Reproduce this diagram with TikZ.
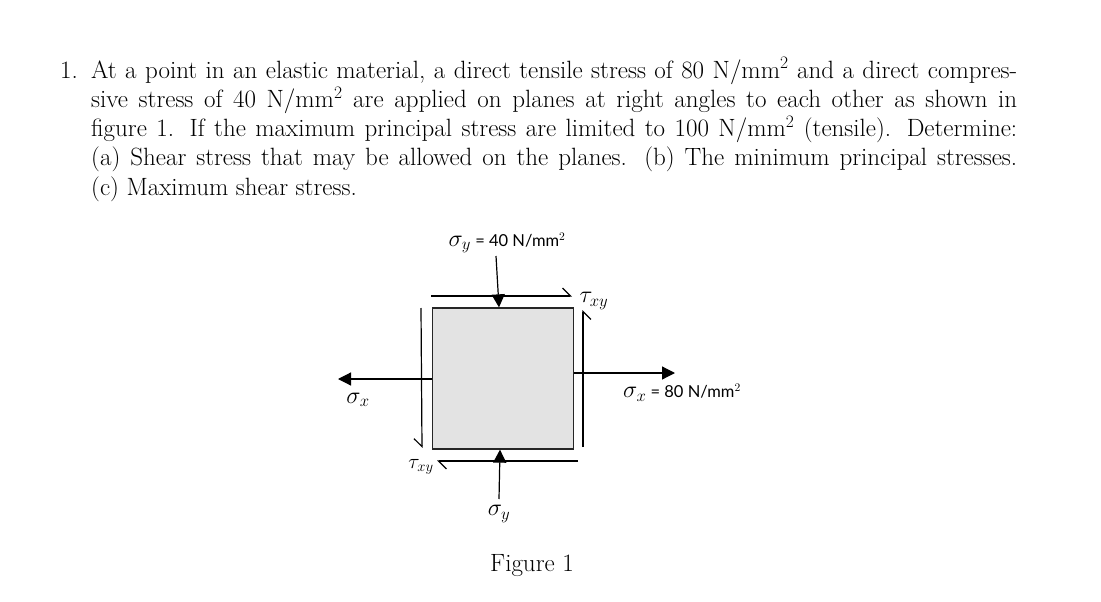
\documentclass[tikz,border=0pt]{standalone}
\usepackage{fix-cm}
\usepackage{fontspec}
\newfontfamily\handfont{Lato}
\newcommand{\handtext}[1]{{\fontsize{16.5}{16.5}\handfont #1}}
\usetikzlibrary{arrows.meta}
\begin{document}
\begin{tikzpicture}[x=1pt,y=-1pt,
        question/.style = {anchor=base west, inner sep=0pt, text width=926pt, align=justify, font=\fontsize{25}{29.3}\selectfont},
        block/.style = {draw=black!85, fill=black!11, line width=1.3pt, minimum size=141pt, inner sep=0pt},
        force/.style = {line width=1.2pt, -{Triangle[length=13pt,width=13pt]}},
        shear/.style = {line width=1.2pt, -{Straight Barb[harpoon,length=8pt,width=16pt]}},
        shearb/.style = {line width=1.2pt, -{Straight Barb[harpoon,swap,length=8pt,width=16pt]}},
        hand/.style = {inner sep=0pt, font=\fontsize{24}{24}\selectfont},
        handsmall/.style = {inner sep=0pt, font=\fontsize{21}{21}\selectfont}]
    \useasboundingbox (0,0) rectangle (1101,602);
    % question text
    \node[question,text width=30pt,align=left] (num) at (60,78) {1.};
    \node[question] (text) at (91,78) {At a point in an elastic material, a direct tensile stress of 80 N/mm$^2$ and a direct compres-\linebreak
        sive stress of 40 N/mm$^2$ are applied on planes at right angles to each other as shown in\linebreak
        figure 1. If the maximum principal stress are limited to 100 N/mm$^2$ (tensile). Determine:\linebreak
        (a) Shear stress that may be allowed on the planes. (b) The minimum principal stresses.\linebreak
        (c) Maximum shear stress.\par};
    % element
    \node[block] (element) at (503,378.5) {};
    % labels
    \node[hand] (sigmaytop) at (507,243) {$\sigma_y$\handtext{ = 40 N/mm$^2$}};
    \node[hand] (sigmaybot) at (499,514) {$\sigma_y$};
    \node[hand] (sigmaxleft) at (358,400) {$\sigma_x$};
    \node[hand] (sigmaxright) at (682,393) {$\sigma_x$\handtext{ = 80 N/mm$^2$}};
    \node[hand] (tautop) at (594,301) {$\tau_{xy}$};
    \node[handsmall] (taubot) at (421,467) {$\tau_{xy}$};
    \node[question,text width=, align=center, anchor=base] (caption) at (532,571) {Figure 1};
    % end points
    \coordinate (ytopstart) at (496,256);
    \coordinate (ybotstart) at (499,499);
    \coordinate (xleftend) at (338,379);
    \coordinate (xrightend) at (675,373);
    \coordinate (stopa) at (431,296);
    \coordinate (stopb) at (572,296);
    \coordinate (srighta) at (583,447);
    \coordinate (srightb) at (583,310);
    \coordinate (slefta) at (421,308);
    \coordinate (sleftb) at (422,448);
    \coordinate (sbota) at (578,461);
    \coordinate (sbotb) at (437,461);
    % normal stress
    \draw[force] (ytopstart) -- (element.north -| 499,0);
    \draw[force] (ybotstart) -- (element.south -| 500,0);
    \draw[force] (element.west |- xleftend) -- (xleftend);
    \draw[force] (element.east |- xrightend) -- (xrightend);
    % shear stress
    \draw[shear] (stopa) -- (stopb);
    \draw[shearb] (srighta) -- (srightb);
    \draw[shearb] (slefta) -- (sleftb);
    \draw[shear] (sbota) -- (sbotb);
\end{tikzpicture}
\end{document}
